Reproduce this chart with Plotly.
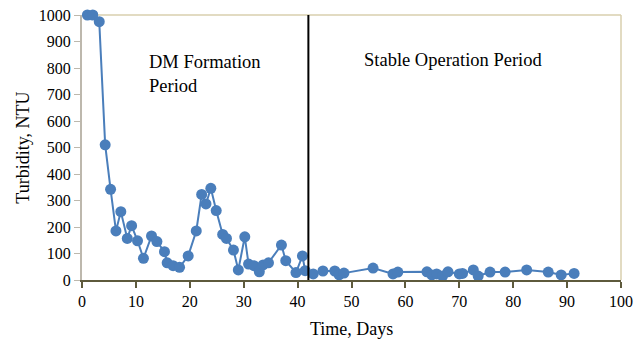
import plotly.graph_objects as go

# Turbidity readings over the run (day, NTU)
days = [1.0, 2.0, 3.2, 4.3, 5.3, 6.3, 7.2, 8.4, 9.2, 10.3, 11.4, 12.9, 13.9, 15.3,
        15.8, 16.9, 18.1, 19.7, 21.2, 22.2, 23.0, 23.9, 24.9, 26.1, 26.8, 28.1,
        29.0, 30.2, 30.9, 31.9, 32.9, 33.6, 34.6, 37.0, 37.8, 39.7, 40.9, 41.4,
        42.9, 44.7, 46.9, 47.7, 48.6, 54.0, 57.7, 58.6, 64.0, 64.9, 65.8, 66.9,
        67.9, 70.0, 70.6, 72.6, 73.5, 75.7, 78.5, 82.5, 86.5, 88.9, 91.3]
turbidity = [1000, 1000, 975, 510, 342, 185, 258, 157, 205, 148, 82, 166, 145, 107,
             65, 54, 48, 91, 185, 323, 287, 346, 262, 172, 157, 113,
             38, 163, 60, 54, 31, 57, 65, 132, 73, 28, 91, 35,
             23, 34, 34, 19, 26, 45, 23, 30, 31, 19, 23, 15,
             31, 23, 25, 38, 15, 30, 30, 38, 30, 19, 25]

period_split = 42
x_ticks = list(range(0, 101, 10))
y_ticks = list(range(0, 1001, 100))

font_family = "Liberation Serif, Times New Roman, serif"
blue = "#4a7ebb"
frame_tan = "#d8cfae"
axis_grey = "#bdb8ad"
axis_dark = "#5e5a3c"

fig = go.Figure()
fig.add_trace(go.Scatter(
    x=days, y=turbidity, mode="lines+markers",
    line=dict(color=blue, width=2),
    marker=dict(color=blue, size=11),
    cliponaxis=False,
    showlegend=False,
))

shapes = [
    # boundary between the two periods
    dict(type="line", xref="x", yref="y", x0=period_split, x1=period_split,
         y0=0, y1=1000, line=dict(color="black", width=2)),
    # top and right edges of the plot frame
    dict(type="line", xref="paper", yref="paper", x0=0, x1=1, y0=1, y1=1,
         line=dict(color=frame_tan, width=1.5), layer="below"),
    dict(type="line", xref="paper", yref="paper", x0=1, x1=1, y0=0, y1=1,
         line=dict(color=frame_tan, width=1.5), layer="below"),
]

annotations = [
    dict(x=12, y=777, xref="x", yref="y", text="DM Formation<br>Period",
         showarrow=False, xanchor="left", yanchor="middle", align="left",
         font=dict(family=font_family, size=18.5, color="black")),
    dict(x=51.9, y=830, xref="x", yref="y", text="Stable Operation Period",
         showarrow=False, xanchor="left", yanchor="middle", align="left",
         font=dict(family=font_family, size=18.5, color="black")),
    # axis titles
    dict(x=0.5, y=-0.185, xref="paper", yref="paper", text="Time, Days",
         showarrow=False, xanchor="center", yanchor="middle",
         font=dict(family=font_family, size=18, color="black")),
    dict(x=-0.111, y=0.5, xref="paper", yref="paper", text="Turbidity, NTU",
         showarrow=False, xanchor="center", yanchor="middle", textangle=-90,
         font=dict(family=font_family, size=18, color="black")),
]

fig.update_layout(
    width=642, height=343,
    margin=dict(l=82, r=21, t=15, b=63),
    paper_bgcolor="white", plot_bgcolor="white",
    font=dict(family=font_family, size=16, color="black"),
    shapes=shapes, annotations=annotations,
    xaxis=dict(
        range=[0, 100], tickvals=x_ticks, showgrid=False, zeroline=False,
        showline=True, linecolor=axis_dark, linewidth=2, automargin=False,
        ticks="outside", ticklen=6, tickwidth=2, tickcolor=axis_dark,
    ),
    yaxis=dict(
        range=[0, 1000], tickvals=y_ticks, showgrid=False, zeroline=False,
        showline=True, linecolor=axis_grey, linewidth=2, automargin=False,
        ticks="outside", ticklen=6, tickwidth=1, tickcolor=axis_grey,
    ),
)

fig.write_html("out.html")
